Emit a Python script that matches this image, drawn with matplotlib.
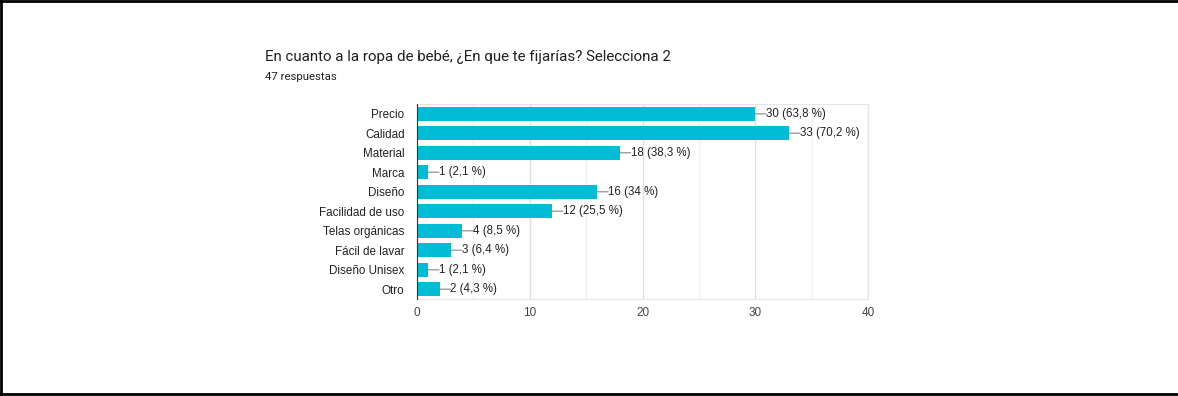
import matplotlib.pyplot as plt
import numpy as np

categorias = ['Precio', 'Calidad', 'Material', 'Marca', 'Diseño', 'Facilidad de uso',
              'Telas orgánicas', 'Fácil de lavar', 'Diseño Unisex', 'Otro']
valores = [30, 33, 18, 1, 16, 12, 4, 3, 1, 2]
porcentajes = ['63,8', '70,2', '38,3', '2,1', '34', '25,5', '8,5', '6,4', '2,1', '4,3']
xticks = [0, 10, 20, 30, 40]

titulo = 'En cuanto a la ropa de bebé, ¿En que te fijarías? Selecciona 2'
subtitulo = '47 respuestas'

W, H = 1178, 396
fig = plt.figure(figsize=(W / 100, H / 100), dpi=100)
ax = fig.add_axes([417 / W, 1 - 299 / H, (868 - 417) / W, (299 - 104) / H])

y = np.arange(len(categorias))
ax.barh(y, valores, height=0.72, color='#00BCD4', zorder=3)

# etiquetas con linea guia
for i, v in enumerate(valores):
    ax.annotate('', xy=(v, i), xytext=(v + 0.95, i),
                arrowprops=dict(arrowstyle='-', color='#9e9e9e', lw=1,
                                shrinkA=0, shrinkB=0), zorder=2)
    ax.text(v + 0.95, i, '%d (%s %%)' % (v, porcentajes[i]), va='center', ha='left',
            fontsize=8.3, color='#222222', family='Liberation Sans')

ax.set_xlim(0, 40)
ax.set_ylim(len(categorias) - 0.5, -0.5)
ax.set_yticks(y)
ax.set_yticklabels(categorias, fontsize=8.4, color='#222222', family='Liberation Sans')
ax.set_xticks(xticks)
ax.set_xticklabels([str(t) for t in xticks], fontsize=8.5, color='#444444', family='Liberation Sans')
ax.set_xticks([5, 15, 25, 35], minor=True)
ax.tick_params(axis='both', which='both', length=0)
ax.tick_params(axis='y', pad=9)
ax.tick_params(axis='x', pad=6)

ax.grid(axis='x', which='major', color='#e0e0e0', lw=1, zorder=0)
ax.grid(axis='x', which='minor', color='#f0f0f0', lw=1, zorder=0)

for s in ['top', 'right', 'bottom']:
    ax.spines[s].set_color('#e6e6e6')
ax.spines['left'].set_color('#333333')
ax.spines['left'].set_zorder(4)

fig.text(265 / W, 1 - 57 / H, titulo, fontsize=10.9, color='#202124',
         family='Roboto', va='center', ha='left')
fig.text(265 / W, 1 - 77 / H, subtitulo, fontsize=8.2, color='#202124',
         family='Roboto', va='center', ha='left')

# marco negro
borde = dict(color='black', lw=2, transform=fig.transFigure)
fig.add_artist(plt.Line2D([0.001, 0.001], [0, 1], **borde))
fig.add_artist(plt.Line2D([0, 1], [0.997, 0.997], **borde))
fig.add_artist(plt.Line2D([0, 1], [0.004, 0.004], **borde))

fig.savefig('out.png', dpi=100)
